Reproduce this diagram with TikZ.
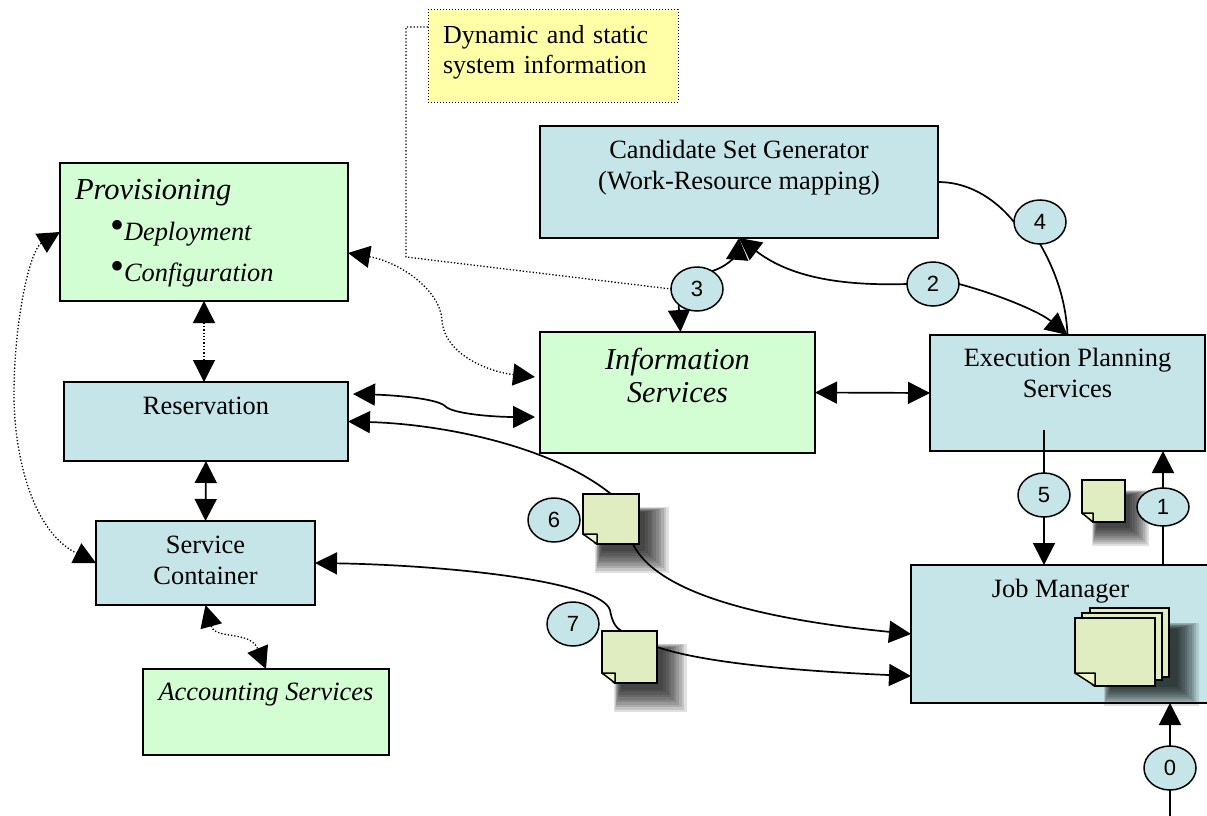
\documentclass[tikz,border=0pt]{standalone}
\usepackage{fontspec}
\setmainfont{Liberation Serif}
\newfontfamily\digitfont{Liberation Sans}
\usetikzlibrary{arrows.meta,shapes.geometric,shadows}
\definecolor{svcblue}{HTML}{C6E5E9}
\definecolor{infogreen}{HTML}{D3FDD3}
\definecolor{noteyellow}{HTML}{FFFFA8}
\definecolor{docgreen}{HTML}{DFEDC0}
\definecolor{docfold}{HTML}{F1F6C8}
\def\softoff{16pt}
\tikzstyle{svcbox}   = [draw,rectangle,fill=svcblue,line width=1.8pt,outer sep=0pt,inner sep=0pt]
\tikzstyle{greenbox} = [svcbox,fill=infogreen]
\tikzstyle{numdot}   = [draw,ellipse,fill=svcblue,line width=1.5pt,minimum width=52pt,minimum height=44pt,inner sep=0pt,outer sep=0pt,font=\fontsize{22}{24}\digitfont]
\tikzstyle{doc}      = [draw,rectangle,fill=docgreen,line width=1.5pt,inner sep=0pt,outer sep=0pt]
\tikzstyle{link}     = [line width=1.7pt]
\tikzstyle{dots}     = [line width=1.3pt,dotted]
\tikzset{
  softoff/.store in=\softoff,
  softstep/.style={general shadow={fill=black,fill opacity=.12,shadow xshift=\softoff,shadow yshift=-\softoff,shadow scale=#1}},
  softshadow/.style={softstep/.list={1.32,1.26,1.2,1.14,1.08,1.02,.96,.9,.84,.78}},
  softstack/.style={softstep/.list={1.2,1.16,1.12,1.08,1.04,1,.96,.92,.88,.84}}
}
% corner turned up at the lower left of a page
\newcommand{\pagefold}[4]{
  \fill[#4] ([shift={(-1.5,1.5)}]#1.south west) -- ([shift={(-1.5,-#3)}]#1.south west) -- ([shift={(#2,1.5)}]#1.south west) -- cycle;
  \draw[fill=docfold,line width=1.5pt,line join=round] ([yshift=#3]#1.south west) -- ([shift={(#2,-#3)}]#1.south west) -- ([xshift=#2]#1.south west) -- cycle;
}
\begin{document}
\begin{tikzpicture}[x=1pt,y=-1pt,>={Triangle[length=22pt,width=22pt]},
    font=\fontsize{26.4}{31}\selectfont,
    every label/.style={font=\fontsize{26.4}{31}\selectfont}]
\useasboundingbox (0,0) rectangle (1207,816);

\node[draw,dotted,line width=1pt,fill=noteyellow,outer sep=0pt,minimum width=250pt,minimum height=92pt,
  label={[yshift=4pt,align=left,text width=220pt,font=\fontsize{26}{30}\selectfont]center:{Dynamic and static\\system information}}] (Note) at (553,56) {};

\node[greenbox,minimum width=288pt,minimum height=138pt,
  label={[yshift=-1pt,align=left,text width=258pt,font=\fontsize{26.4}{41}\selectfont\itshape]center:{\fontsize{30.5}{41}\selectfont Provisioning\\
    \fontsize{26.4}{41}\selectfont\hspace*{35pt}\raisebox{2pt}{\fontsize{40}{41}\selectfont\upshape•}Deployment\\
    \hspace*{35pt}\raisebox{2pt}{\fontsize{40}{41}\selectfont\upshape•}Configuration}}] (Prov) at (204,232) {};
\node[svcbox,minimum width=284pt,minimum height=79pt,label={[yshift=16pt]center:Reservation}] (Reservation) at (206,421.5) {};
\node[svcbox,minimum width=219pt,minimum height=84pt,label={[yshift=3pt,align=center]center:{Service\\Container}}] (Service) at (205.5,563) {};
\node[greenbox,minimum width=246pt,minimum height=86pt,label={[yshift=17pt,font=\fontsize{26.4}{31}\selectfont\itshape]center:Accounting Services}] (Accounting) at (266,712) {};
\node[greenbox,minimum width=275pt,minimum height=121pt,label={[yshift=17pt,align=center,font=\fontsize{30.3}{33}\selectfont\itshape]center:{Information\\Services}}] (Info) at (677.5,392.5) {};
\node[svcbox,minimum width=398pt,minimum height=112pt,label={[yshift=14pt,align=center]center:{Candidate Set Generator\\(Work-Resource mapping)}}] (Candidate) at (739,182) {};
\node[svcbox,minimum width=275pt,minimum height=116pt,label={[yshift=20pt,align=center]center:{Execution Planning\\Services}}] (Exec) at (1067.5,393) {};
\node[svcbox,minimum width=297pt,minimum height=138pt,label={[xshift=1pt,yshift=43pt]center:Job Manager}] (JobMgr) at (1059.5,634) {};

% documents passed between the services
\node[doc,softshadow,minimum width=56pt,minimum height=50pt] (Doc6) at (611,519) {};
\node[doc,softshadow,minimum width=55pt,minimum height=52pt] (Doc7) at (629.5,657) {};
\node[doc,softoff=13pt,softshadow,minimum width=43pt,minimum height=42pt] (Doc5) at (1103.5,501) {};
\pagefold{Doc6}{14}{10}{white}
\pagefold{Doc7}{13}{10}{white}
\pagefold{Doc5}{11}{9}{white}

\node[doc,softoff=18pt,softstack,minimum width=79pt,minimum height=69pt] (PageC) at (1129.5,642.5) {};
\node[doc,minimum width=80pt,minimum height=67pt] (PageB) at (1122,646.5) {};
\node[doc,minimum width=80pt,minimum height=68pt] (PageA) at (1115,652) {};
\pagefold{PageA}{20}{13}{svcblue}

\node[numdot] (N3) at (697,289) {3};
\node[numdot] (N4) at (1040,222) {4};
\node[numdot] (N2) at (933,284) {2};
\node[numdot] (N5) at (1044,495) {5};
\node[numdot,minimum height=38pt] (N1) at (1163,507) {1};
\node[numdot] (N0) at (1170,768) {0};
\node[numdot] (N6) at (554,520) {6};
\node[numdot] (N7) at (573,624) {7};

\coordinate (NoteTop) at (406,27);
\coordinate (NoteLow) at (406,257);
\coordinate (ExecOut) at (1044,430);
\coordinate (JobIn) at (1170,816);

\draw[dots] ([yshift=29pt]Note.west) -- (NoteTop) -- (NoteLow) -- (N3.west);
\draw[dots,<->] ([yshift=-21pt]Prov.east) .. controls (400,262) and (440,290) .. (442,320) .. controls (444,355) and (490,372) .. ([shift={(-5pt,15.5pt)}]Info.west);
\draw[dots,<->] (Prov.south) -- (Prov.south |- Reservation.north);
\draw[dots,<->] (Prov.west) .. controls (30,250) and (14,320) .. (14,395) .. controls (14,450) and (30,530) .. (Service.west);
\draw[dots,<->] (Service.south) .. controls (215,640) and (250,630) .. (Accounting.north);

\draw[link,<->] (Reservation.south) -- (Service.north);
\draw[link,<->] ([shift={(5pt,27.5pt)}]Reservation.east) .. controls (390,395) and (436,398) .. (445,406) .. controls (452,414) and (495,417) .. ([shift={(-5pt,-24.5pt)}]Info.west);
\draw[link,<->] (Info.east) -- (Exec.west);

\draw[link,<-] (Reservation.east) .. controls (440,424) and (550,445) .. (Doc6.north);
\draw[link,->] ([xshift=22pt]Doc6.south) .. controls (660,600) and (790,622) .. (JobMgr.west);
\draw[link,<-] (Service.east) .. controls (440,565) and (600,580) .. (610,610) .. controls (612,622) and (616,628) .. ([xshift=-8pt]Doc7.north);
\draw[link,->] ([yshift=10pt]Doc7.east) .. controls (710,665) and (820,672) .. ([yshift=-42pt]JobMgr.west);

\draw[link,->] (N3.50) .. controls (732,265) and (738,250) .. (Candidate.south);
\draw[link,->] (N3.south west) -- ([xshift=3pt]Info.north);
\draw[link,->] (N2.west) .. controls (840,286) and (790,277) .. (Candidate.south);
\draw[link,->] (N2.east) .. controls (1000,295) and (1040,312) .. (Exec.north);
\draw[link] (Candidate.east) .. controls (965,182) and (992,195) .. (N4.west);
\draw[link] (N4.south) .. controls (1055,270) and (1066,300) .. (Exec.north);
\draw[link] (ExecOut) -- (N5.north);
\draw[link,->] (N5.south) -- (N5 |- JobMgr.north);
\draw[link] (N1 |- JobMgr.north) -- (N1.south);
\draw[link,->] (N1.north) -- (N1 |- Exec.south);
\draw[link] (JobIn) -- (N0.south);
\draw[link,->] (N0.north) -- (N0 |- JobMgr.south);

\end{tikzpicture}
\end{document}
